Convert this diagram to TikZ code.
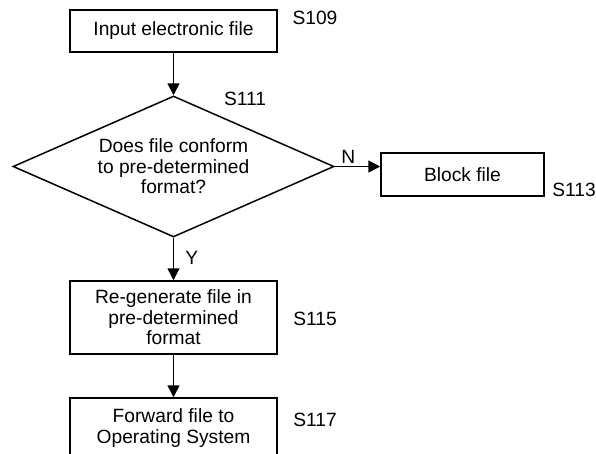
\documentclass[tikz,border=0pt]{standalone}
\usepackage{fontspec}
\setmainfont{Liberation Sans}
\usetikzlibrary{arrows.meta,shapes.geometric,positioning,calc}
\tikzset{every picture/.style={line width=1.5pt}}
\tikzset{
    stepbox/.style={draw, rectangle, align=center, inner sep=0pt, minimum width=207pt},
    decision/.style={draw, diamond, aspect=2.28, inner sep=0pt, minimum width=321pt, minimum height=141pt, align=center},
    flow/.style={-{Triangle[length=12pt,width=12pt]}},
    steplabel/.style={inner sep=0pt}
}

\begin{document}
\begin{tikzpicture}[x=1pt, y=-1pt, font=\fontsize{19.2}{20.5}\selectfont]
    \useasboundingbox (0,0) rectangle (596,453);

    % 输入文件
    \node[stepbox, minimum height=42pt] (input) at (173.5,31) {Input electronic file};
    \node[steplabel] (s109) at (315,18) {S109};

    % 格式判断
    \node[decision] (check) at (173.5,166.5) {Does file conform\\to pre-determined\\format?};
    \node[steplabel] (s111) at (245,99) {S111};

    % 阻止文件
    \node[stepbox, minimum width=163pt, minimum height=43pt] (block) at (462.5,174.5) {Block file};
    \node[steplabel] (s113) at (574,190) {S113};

    % 重新生成
    \node[stepbox, minimum height=73pt] (regen) at (173.5,317.5) {Re-generate file in\\pre-determined\\format};
    \node[steplabel] (s115) at (315,319) {S115};

    % 转发文件
    \node[stepbox, minimum height=60pt] (fwd) at (173.5,428) {Forward file to\\Operating System};
    \node[steplabel] (s117) at (315,420) {S117};

    % 连线
    \draw[flow] (input) -- (check);
    \draw[flow] (check.east) -- (check.east -| block.west) node[pos=0.3, above, inner sep=2pt] (no) {N};
    \draw[flow] (check) -- (regen) node[pos=0.47, right, inner sep=11pt] (yes) {Y};
    \draw[flow] (regen) -- (fwd);
\end{tikzpicture}
\end{document}
